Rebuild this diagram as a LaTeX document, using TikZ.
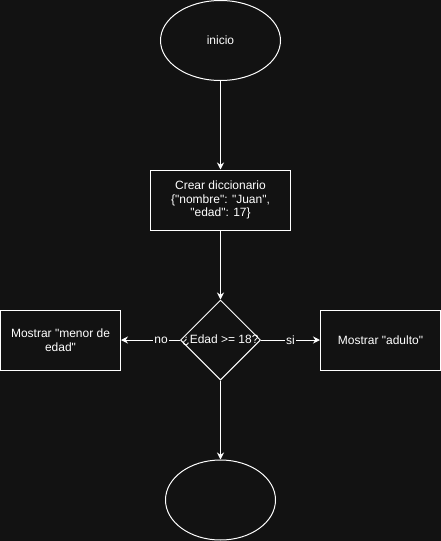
\documentclass[tikz,border=0pt]{standalone}
\usepackage{fontspec}
\setmainfont{Liberation Sans}[Ligatures=TeXOff]
\usetikzlibrary{shapes.geometric, arrows.meta}
\definecolor{bgdark}{RGB}{18,18,18}
\tikzset{
  terminal/.style={draw=white, ellipse, minimum width=120pt, minimum height=80pt, inner sep=0pt},
  process/.style={draw=white, rectangle, minimum width=140pt, minimum height=60pt, align=center, inner sep=2pt},
  decision/.style={draw=white, diamond, minimum width=80pt, minimum height=80pt, inner sep=0pt},
  flow/.style={draw=white, -{Stealth[length=7pt, width=7pt]}},
  flowlabel/.style={fill=bgdark, inner sep=1pt, text=white}
}

\begin{document}
\begin{tikzpicture}[x=1pt, y=-1pt, line width=1pt, text=white,
                    font=\fontsize{12}{13.5}\selectfont]
    % Background
    \fill [bgdark] (0, 0) rectangle (441, 541);
    \useasboundingbox (0, 0) rectangle (441, 541);

    % Start and end
    \node [terminal] (inicio) at (220.5, 40.5) {inicio};
    \node [terminal, minimum width=110pt] (fin) at (220.5, 500) {};

    % Steps
    \node [process] (crear) at (220.5, 200)
          {Crear diccionario\\\{"nombre": "Juan",\\"edad": 17\}};
    \node [process, minimum width=120pt] (menor) at (60.5, 340)
          {Mostrar "menor de\\edad"};
    \node [process, minimum width=120pt] (adulto) at (380.5, 340)
          {Mostrar "adulto"};

    % Decision
    \node [decision] (cond) at (220.5, 340) {};
    \node (condtext) at (cond.center) {¿Edad >= 18?};

    % Connections
    \draw [flow] (inicio) -- (crear);
    \draw [flow] (crear) -- (cond);
    \draw [flow] (cond) -- node [flowlabel, pos=0.32] (no) {no} (menor);
    \draw [flow] (cond) -- node [flowlabel, pos=0.5] (si) {si} (adulto);
    \draw [flow] (cond) -- (fin);
\end{tikzpicture}
\end{document}
